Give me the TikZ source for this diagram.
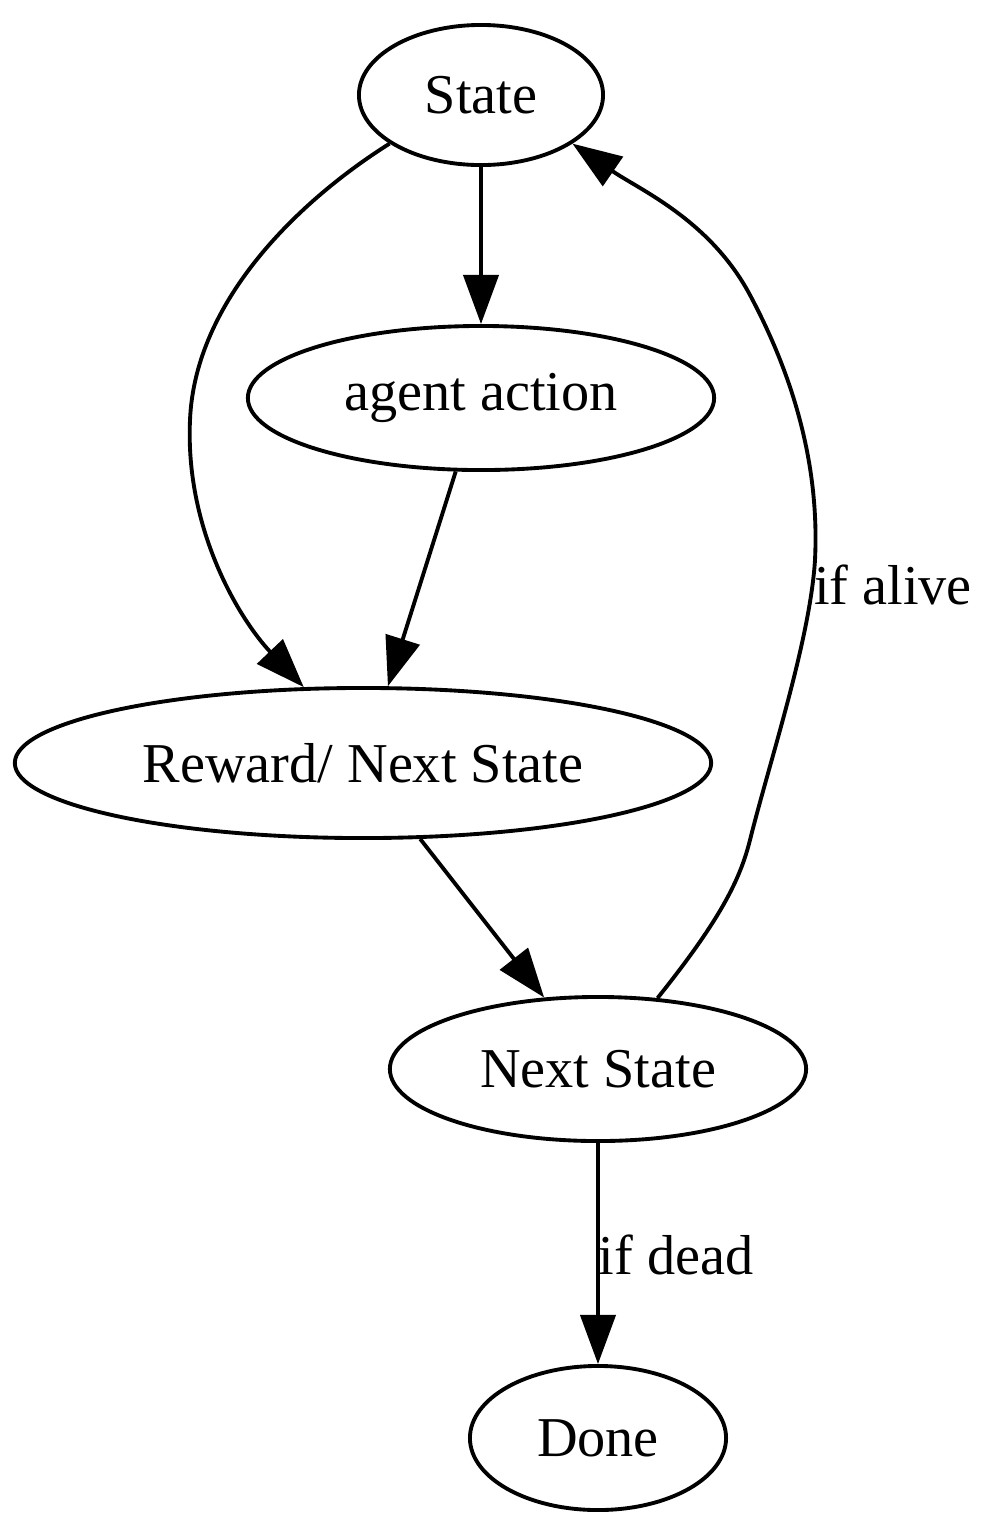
\documentclass[tikz,border=0pt]{standalone}
\usepackage{fontspec}
\setmainfont{Liberation Serif}
\usetikzlibrary{shapes.geometric,arrows.meta}
\begin{document}
\begin{tikzpicture}[x=0.01cm,y=-0.01cm,
  every node/.style={font=\fontsize{16}{19}\selectfont},
  stnode/.style={draw,ellipse,line width=1.1pt,inner sep=0pt},
  conn/.style={line width=1.1pt,-{Triangle[length=14pt,width=10pt]}},
  lbl/.style={inner sep=0pt}]
\path[use as bounding box,fill=white] (0,0) rectangle (991,1529);
\node[stnode,minimum width=2.44cm,minimum height=1.40cm] (S) at (481,95) {\raisebox{-1.4pt}{State}};
\node[stnode,minimum width=4.66cm,minimum height=1.44cm] (A) at (481,398) {\raisebox{-1.4pt}{agent action}};
\node[stnode,minimum width=6.96cm,minimum height=1.50cm] (R) at (363,763) {\raisebox{-1.4pt}{Reward/ Next State}};
\node[stnode,minimum width=4.16cm,minimum height=1.44cm] (N) at (598,1069) {\raisebox{-1.4pt}{Next State}};
\node[stnode,minimum width=2.56cm,minimum height=1.44cm] (D) at (598,1438) {\raisebox{-1.4pt}{Done}};
\draw[conn] (S) -- (A);
\draw[conn] (S.208) .. controls (300,200) and (195,300) .. (190,420) .. controls (185,530) and (240,620) .. (R.128);
\draw[conn] (A.251) -- (R.72);
\draw[conn] (R.307) -- (N.127);
\draw[conn] (N.50) .. controls (720,920) and (740,880) .. (750,840) .. controls (770,760) and (810,640) .. (815,560) .. controls (820,460) and (790,370) .. (750,295) .. controls (710,220) and (640,190) .. (S.332);
\draw[conn] (N) -- (D);
\node[lbl] (la) at (893,585) {if alive};
\node[lbl] (ld) at (676,1255) {if dead};
\end{tikzpicture}
\end{document}
